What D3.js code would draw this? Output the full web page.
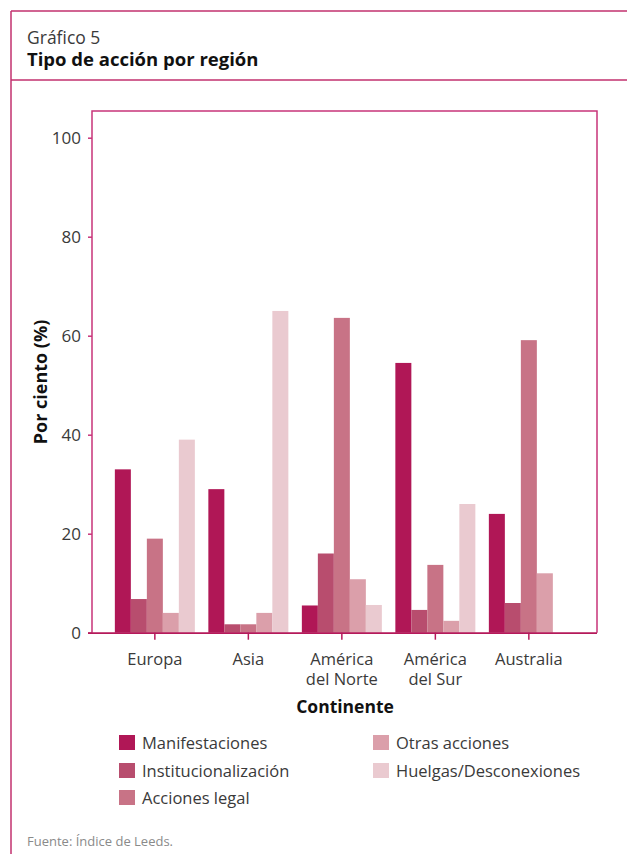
<!DOCTYPE html>
<html>
<head>
<meta charset="utf-8">
<script src="https://cdn.jsdelivr.net/npm/d3@7"></script>
<style>
  html, body { margin: 0; padding: 0; background: #fff; }
  svg { display: block; font-family: "Open Sans", "Noto Sans", sans-serif; }
</style>
</head>
<body>
<svg id="chart" width="627" height="854"></svg>
<script>
// Categories and series (per cent of actions in each region)
const continents = ["Europa", "Asia", "América\ndel Norte", "América\ndel Sur", "Australia"];
const seriesNames = ["Manifestaciones", "Institucionalización", "Acciones legal", "Otras acciones", "Huelgas/Desconexiones"];
const manifestaciones      = [33, 29, 5.5, 54.5, 24];
const institucionalizacion = [6.8, 1.7, 16, 4.6, 6];
const accionesLegal        = [19, 1.7, 63.6, 13.7, 59.1];
const otrasAcciones        = [4, 4, 10.8, 2.4, 12];
const huelgas              = [39, 65, 5.6, 26, 0];
const yTicks = [0, 20, 40, 60, 80, 100];
const seriesColors = ["#b01756", "#b84d6e", "#c87386", "#db9faa", "#eacad0"];

const series = [manifestaciones, institucionalizacion, accionesLegal, otrasAcciones, huelgas];
const rows = continents.map((c, i) => ({
  continent: c,
  values: series.map((s, j) => ({ key: seriesNames[j], value: s[i] }))
}));

const frameColor = "#c2306e";
const axisColor = "#b5195a";
const textColor = "#3a3a3a";

const svg = d3.select("#chart");

// Outer frame and header
svg.append("line").attr("x1", 11).attr("x2", 627).attr("y1", 11).attr("y2", 11)
  .attr("stroke", frameColor).attr("stroke-width", 1.5);
svg.append("line").attr("x1", 11).attr("x2", 11).attr("y1", 11).attr("y2", 854)
  .attr("stroke", frameColor).attr("stroke-width", 1.5);
svg.append("line").attr("x1", 11).attr("x2", 627).attr("y1", 80).attr("y2", 80)
  .attr("stroke", frameColor).attr("stroke-width", 1.5);

svg.append("text").attr("x", 27).attr("y", 44)
  .attr("font-size", 17.5).attr("fill", textColor).text("Gráfico 5");
svg.append("text").attr("x", 27).attr("y", 66)
  .attr("font-size", 18.5).attr("font-weight", "bold").attr("fill", "#111")
  .text("Tipo de acción por región");

// Plot area
const plot = { left: 92, right: 597, top: 111, bottom: 632.7 };

const x0 = d3.scaleBand().domain(continents).range([108.1, 575.6]).padding(0);
const x1 = d3.scaleBand().domain(seriesNames).range([0, 80]).padding(0);
const y = d3.scaleLinear().domain([0, 100]).range([632.7, 137.7]);

// Plot frame (left, top, right)
svg.append("path")
  .attr("d", `M${plot.left},${plot.bottom} V${plot.top} H${plot.right} V${plot.bottom}`)
  .attr("fill", "none").attr("stroke", "#c8357a").attr("stroke-width", 1.5);

// Bars
const groups = svg.append("g").selectAll("g")
  .data(rows).join("g")
  .attr("transform", d => `translate(${x0(d.continent) + (x0.bandwidth() - 80) / 2},0)`);

groups.selectAll("rect")
  .data(d => d.values.filter(v => v.value > 0))
  .join("rect")
  .attr("x", d => x1(d.key))
  .attr("width", x1.bandwidth())
  .attr("y", d => y(d.value))
  .attr("height", d => y(0) - y(d.value))
  .attr("fill", d => seriesColors[seriesNames.indexOf(d.key)]);

// Y axis
const yAxis = svg.append("g")
  .attr("transform", `translate(${plot.left},0)`)
  .call(d3.axisLeft(y).tickValues(yTicks).tickSize(4).tickPadding(7));
yAxis.select(".domain").remove();
yAxis.selectAll(".tick line").attr("stroke", "#c8357a").attr("stroke-width", 1.5);
yAxis.selectAll(".tick text").attr("font-size", 17).attr("fill", textColor)
  .attr("font-family", "'Open Sans', sans-serif");

// X axis
const xAxis = svg.append("g")
  .attr("transform", `translate(0,${plot.bottom})`)
  .call(d3.axisBottom(x0).tickSize(7).tickSizeOuter(0).tickFormat(""));
xAxis.select(".domain").attr("d", `M${plot.left - 4},0.5H${plot.right}`)
  .attr("stroke", axisColor).attr("stroke-width", 1.8);
xAxis.selectAll(".tick line").attr("stroke", axisColor).attr("stroke-width", 1.5);

// Category labels (two lines where needed)
xAxis.selectAll(".tick").each(function(d) {
  const t = d3.select(this).append("text")
    .attr("y", 32).attr("text-anchor", "middle")
    .attr("font-size", 16.5).attr("fill", textColor)
    .attr("font-family", "'Open Sans', sans-serif");
  d.split("\n").forEach((line, i) => {
    t.append("tspan").attr("x", 0).attr("dy", i === 0 ? 0 : 20.5).text(line);
  });
});

// Axis titles
svg.append("text")
  .attr("transform", "translate(47,382) rotate(-90)")
  .attr("text-anchor", "middle").attr("font-size", 18).attr("font-weight", "bold")
  .attr("fill", "#111").text("Por ciento (%)");

svg.append("text").attr("x", 345).attr("y", 713)
  .attr("text-anchor", "middle").attr("font-size", 17.5).attr("font-weight", "bold")
  .attr("fill", "#111").text("Continente");

// Legend in two columns
const legendPos = [
  { x: 119, y: 735 }, { x: 119, y: 763 }, { x: 119, y: 790 },
  { x: 373, y: 735 }, { x: 373, y: 763 }
];
const legend = svg.append("g").selectAll("g")
  .data(seriesNames).join("g")
  .attr("transform", (d, i) => `translate(${legendPos[i].x},${legendPos[i].y})`);
legend.append("rect").attr("width", 16).attr("height", 15)
  .attr("fill", (d, i) => seriesColors[i]);
legend.append("text").attr("x", 23).attr("y", 14)
  .attr("font-size", 16.5).attr("fill", textColor).text(d => d);

// Source note
svg.append("text").attr("x", 27).attr("y", 846)
  .attr("font-size", 13).attr("fill", "#8a8a8a").text("Fuente: Índice de Leeds.");
</script>
</body>
</html>
